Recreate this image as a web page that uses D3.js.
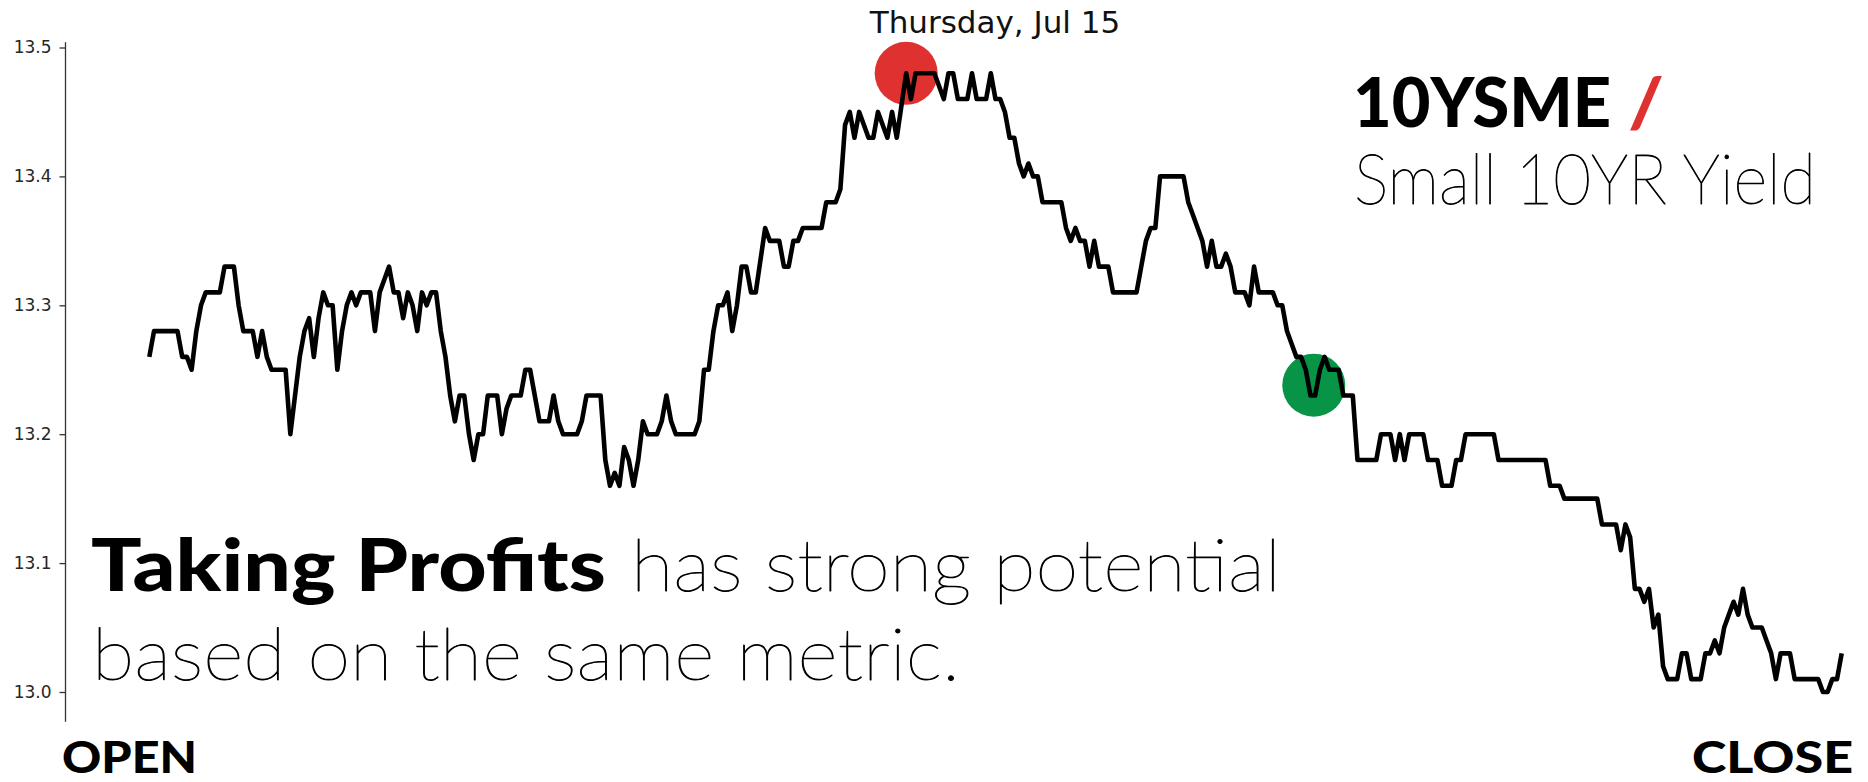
<!DOCTYPE html>
<html>
<head>
<meta charset="utf-8">
<script src="https://cdn.jsdelivr.net/npm/d3@7/dist/d3.min.js"></script>
<style>
  html, body { margin: 0; padding: 0; background: #ffffff; }
  svg { display: block; }
</style>
</head>
<body>
<svg id="chart" width="1868" height="782"></svg>
<script>
// ---------------- DATA ----------------
const sessionMinute = [
  0,1,6,7,8,9,10,11,12,15,16,18,19,20,22,23,24,25,26,29,
  30,31,32,33,34,35,36,37,38,39,40,41,42,43,44,45,47,48,49,50,
  51,52,53,54,55,56,57,58,59,60,61,62,63,64,65,66,67,68,69,70,
  71,72,74,75,76,77,79,80,81,83,85,86,87,88,91,92,93,96,97,98,
  99,100,101,102,103,104,105,106,108,109,110,111,112,116,117,118,119,120,121,122,
  123,124,125,126,127,128,129,131,132,134,135,136,137,138,139,143,144,146,147,148,
  149,150,151,153,154,155,157,158,159,161,162,163,167,169,170,171,172,174,175,176,
  178,179,180,181,182,183,184,185,186,187,188,189,190,194,195,196,197,198,199,200,
  201,202,204,205,210,211,212,213,214,215,220,221,222,223,224,225,226,227,228,229,
  230,231,233,234,235,236,239,240,241,242,243,244,245,246,247,248,249,250,251,253,
  254,256,257,261,262,264,265,266,267,268,271,272,274,275,277,278,279,280,286,287,
  297,298,300,301,308,309,312,313,314,315,316,317,318,319,320,321,322,323,325,326,
  327,328,330,331,332,333,334,335,336,337,338,339,340,341,343,344,345,346,347,349,
  350,355,356,357,358,359,360
];
const yieldValue = [
  13.26,13.28,13.28,13.26,13.26,13.25,13.28,13.30,13.31,13.31,13.33,13.33,13.30,13.28,13.28,13.26,13.28,13.26,13.25,13.25,
  13.20,13.23,13.26,13.28,13.29,13.26,13.29,13.31,13.30,13.30,13.25,13.28,13.30,13.31,13.30,13.31,13.31,13.28,13.31,13.32,
  13.33,13.31,13.31,13.29,13.31,13.30,13.28,13.31,13.30,13.31,13.31,13.28,13.26,13.23,13.21,13.23,13.23,13.20,13.18,13.20,
  13.20,13.23,13.23,13.20,13.22,13.23,13.23,13.25,13.25,13.21,13.21,13.23,13.21,13.20,13.20,13.21,13.23,13.23,13.18,13.16,
  13.17,13.16,13.19,13.18,13.16,13.18,13.21,13.20,13.20,13.21,13.23,13.21,13.20,13.20,13.21,13.25,13.25,13.28,13.30,13.30,
  13.31,13.28,13.30,13.33,13.33,13.31,13.31,13.36,13.35,13.35,13.33,13.33,13.35,13.35,13.36,13.36,13.38,13.38,13.39,13.44,
  13.45,13.43,13.45,13.43,13.43,13.45,13.43,13.45,13.43,13.48,13.46,13.48,13.48,13.46,13.48,13.48,13.46,13.46,13.48,13.46,
  13.46,13.48,13.46,13.46,13.45,13.43,13.43,13.41,13.40,13.41,13.40,13.40,13.38,13.38,13.36,13.35,13.36,13.35,13.35,13.33,
  13.35,13.33,13.33,13.31,13.31,13.33,13.35,13.36,13.36,13.40,13.40,13.38,13.37,13.36,13.35,13.33,13.35,13.33,13.33,13.34,
  13.33,13.31,13.31,13.30,13.33,13.31,13.31,13.30,13.30,13.28,13.27,13.26,13.26,13.25,13.23,13.23,13.25,13.26,13.25,13.25,
  13.23,13.23,13.18,13.18,13.20,13.20,13.18,13.20,13.18,13.20,13.20,13.18,13.18,13.16,13.16,13.18,13.18,13.20,13.20,13.18,
  13.18,13.16,13.16,13.15,13.15,13.13,13.13,13.11,13.13,13.12,13.08,13.08,13.07,13.08,13.05,13.06,13.02,13.01,13.01,13.03,
  13.03,13.01,13.01,13.03,13.03,13.04,13.03,13.05,13.06,13.07,13.06,13.08,13.06,13.05,13.05,13.04,13.03,13.01,13.03,13.03,
  13.01,13.01,13.00,13.00,13.01,13.01,13.03
];
const yTicks = [13.0, 13.1, 13.2, 13.3, 13.4, 13.5];
const signalMinute = [161, 247.7];
const signalValue = [13.48, 13.238];
const signalKind = ["sell", "buy"];
const chartTitle = "Thursday, Jul 15";
const tickerName = "10YSME";
const tickerDesc = "Small 10YR Yield";
const headlineBold = "Taking Profits";
const headlineLight1 = "has strong potential";
const headlineLight2 = "based on the same metric.";
const openLabel = "OPEN";
const closeLabel = "CLOSE";

// ---------------- STYLE ----------------
const signalColor = { sell: "#e03131", buy: "#079447" };
const W = 1868, H = 782;

const svg = d3.select("#chart");
svg.append("rect").attr("width", W).attr("height", H).attr("fill", "#ffffff");

const x = d3.scaleLinear().domain([0, 360]).range([149.3, 1841.7]);
const y = d3.scaleLinear().domain([13.0, 13.5]).range([692, 47.5]);

// left spine
svg.append("line")
  .attr("x1", 65.5).attr("x2", 65.5)
  .attr("y1", y(13.504)).attr("y2", y(12.977))
  .attr("stroke", "#333").attr("stroke-width", 1.3);

const yAxis = d3.axisLeft(y).tickValues(yTicks).tickFormat(d3.format(".1f"))
  .tickSize(6).tickPadding(8);
const gy = svg.append("g").attr("transform", "translate(65.5,0)").call(yAxis);
gy.select(".domain").remove();
gy.selectAll(".tick line").attr("stroke", "#333").attr("stroke-width", 1.3);
gy.selectAll(".tick text")
  .attr("fill", "#262626")
  .style("font-family", "'DejaVu Sans', sans-serif")
  .style("font-size", "17px");

// title
svg.append("text")
  .attr("x", 995).attr("y", 33)
  .attr("text-anchor", "middle")
  .style("font-family", "'DejaVu Sans', sans-serif")
  .style("font-size", "31px")
  .attr("fill", "#111")
  .text(chartTitle);

// signal circles (beneath the line)
const signals = signalMinute.map((m, i) => ({ m, v: signalValue[i], k: signalKind[i] }));
svg.selectAll("circle.signal").data(signals).enter().append("circle")
  .attr("class", "signal")
  .attr("cx", d => x(d.m)).attr("cy", d => y(d.v))
  .attr("r", 31.5)
  .attr("fill", d => signalColor[d.k]);

// price line
const pts = sessionMinute.map((m, i) => [m, yieldValue[i]]);
svg.append("path")
  .datum(pts)
  .attr("fill", "none")
  .attr("stroke", "#000")
  .attr("stroke-width", 4.6)
  .attr("stroke-linejoin", "round")
  .attr("stroke-linecap", "butt")
  .attr("d", d3.line().x(d => x(d[0])).y(d => y(d[1])));

// brand block
const boldFont = "Lato, 'Open Sans', sans-serif";
const lightFont = "Lato, 'Open Sans', sans-serif";
const lightWeight = 200;
function thin(sel) {
  return sel.style("font-family", lightFont).style("font-weight", lightWeight)
    .attr("fill", "#000").attr("stroke", "#000").attr("stroke-width", 0.9)
    .attr("stroke-linejoin", "round");
}

svg.append("text")
  .attr("x", 1353).attr("y", 126.5)
  .style("font-family", boldFont).style("font-weight", 900).style("font-size", "68px")
  .attr("textLength", 258).attr("lengthAdjust", "spacingAndGlyphs")
  .attr("fill", "#000").text(tickerName);
svg.append("text")
  .attr("x", 1628).attr("y", 126.5)
  .style("font-family", boldFont).style("font-weight", 900).style("font-size", "68px")
  .attr("textLength", 36).attr("lengthAdjust", "spacingAndGlyphs")
  .attr("fill", "#e03131").text("/");
svg.append("text")
  .attr("x", 1354).attr("y", 203.5)
  .call(thin).style("font-size", "70px")
  .attr("textLength", 462).attr("lengthAdjust", "spacingAndGlyphs")
  .text(tickerDesc);

// headline
svg.append("text")
  .attr("x", 91).attr("y", 591)
  .style("font-family", boldFont).style("font-weight", 900).style("font-size", "73px")
  .attr("textLength", 515).attr("lengthAdjust", "spacingAndGlyphs")
  .attr("fill", "#000").text(headlineBold);
svg.append("text")
  .attr("x", 631).attr("y", 591)
  .call(thin).style("font-size", "72px")
  .attr("textLength", 650).attr("lengthAdjust", "spacingAndGlyphs")
  .text(headlineLight1);
svg.append("text")
  .attr("x", 92).attr("y", 680)
  .call(thin).style("font-size", "72px")
  .attr("textLength", 868).attr("lengthAdjust", "spacingAndGlyphs")
  .text(headlineLight2);

// OPEN / CLOSE
svg.append("text")
  .attr("x", 62).attr("y", 773)
  .style("font-family", boldFont).style("font-weight", 900).style("font-size", "44px")
  .attr("textLength", 135).attr("lengthAdjust", "spacingAndGlyphs")
  .attr("fill", "#000").text(openLabel);
svg.append("text")
  .attr("x", 1692).attr("y", 773)
  .style("font-family", boldFont).style("font-weight", 900).style("font-size", "44px")
  .attr("textLength", 161).attr("lengthAdjust", "spacingAndGlyphs")
  .attr("fill", "#000").text(closeLabel);
</script>
</body>
</html>
